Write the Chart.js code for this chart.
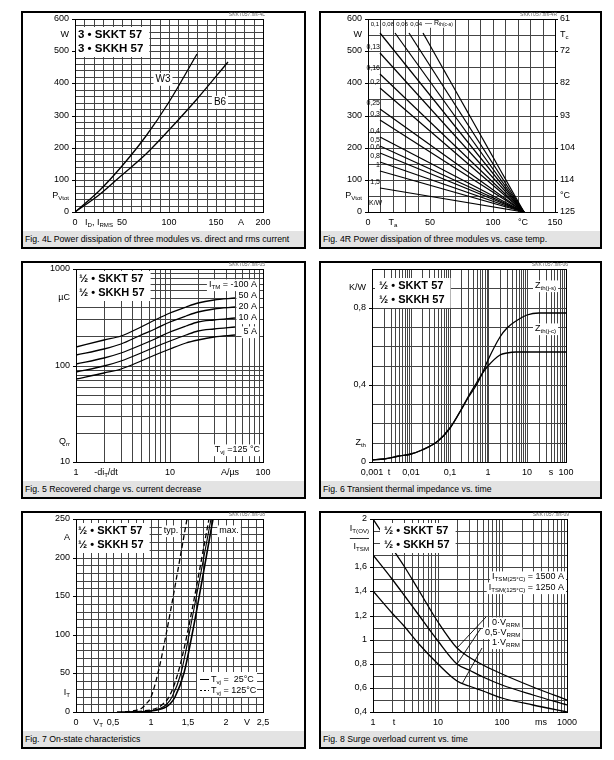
<!DOCTYPE html>
<html>
<head>
<meta charset="utf-8">
<title>SKKT 57 / SKKH 57</title>
<script src="https://cdn.jsdelivr.net/npm/chart.js@4.4.1/dist/chart.umd.min.js"></script>
<style>
  body { margin: 0; width: 614px; height: 760px; position: relative; background: #fff; overflow: hidden;
         font-family: "Liberation Sans", Arial, sans-serif; }
  .box { position: absolute; border: 2px solid #000; box-sizing: border-box; }
  .cap { position: absolute; left: 0; right: 0; bottom: 0; height: 16px; line-height: 16px; background: #e3e3e3;
         font-size: 8.7px; padding-left: 2px; white-space: nowrap; overflow: hidden; }
  canvas { position: absolute; }
</style>
</head>
<body>
<script>
// Fig. 4L - power dissipation vs. current
const fig4lW3Current = [0, 25, 50, 75, 100, 130];
const fig4lW3Power = [0, 64, 142, 235, 343, 491];
const fig4lB6Current = [0, 25, 50, 75, 100, 130, 163];
const fig4lB6Power = [0, 54, 114, 181, 254, 351, 467];
const fig4lXLabels = [0, 50, 100, 150, 200];
const fig4lYLabels = [0, 100, 200, 300, 400, 500, 600];

// Fig. 4R - power dissipation vs. case temp, one line per Rth(c-a)
const fig4rRth = ['0,04', '0,06', '0,08', '0,1', '0,13', '0,16', '0,2', '0,25', '0,3', '0,4', '0,5', '0,6', '0,8', '1', '1,5'];
const fig4rStartTa = [44, 33, 22, 10, 10, 10, 10, 10, 10, 10, 10, 10, 10, 10, 10];
const fig4rStartP = [556, 556, 556, 556, 493, 430, 384, 320, 285, 233, 206, 184, 155, 126, 75];
const fig4rEndTa = 125;
const fig4rXLabels = [0, 50, 100, 150];
const fig4rYLabels = [0, 100, 200, 300, 400, 500, 600];
const fig4rTcLabels = ['125', '114', '104', '93', '82', '72', '61'];

// Fig. 5 - recovered charge
const fig5DiDt = [1, 2, 3, 5, 7, 10, 15, 20, 30, 50];
const fig5Q100 = [156, 182, 204, 251, 295, 347, 407, 447, 479, 501];
const fig5Q50 = [129, 150, 168, 206, 240, 281, 329, 360, 385, 402];
const fig5Q20 = [104, 120, 134, 163, 190, 221, 257, 281, 299, 312];
const fig5Q10 = [86, 100, 111, 134, 155, 180, 208, 226, 241, 251];
const fig5Q5 = [72, 83, 92, 111, 128, 148, 171, 185, 197, 205];
const fig5XLabels = [1, 10, 100];
const fig5YLabels = [10, 100, 1000];

// Fig. 6 - transient thermal impedance
const fig6Time = [0.001, 0.002, 0.005, 0.01, 0.02, 0.05, 0.1, 0.2, 0.3, 0.5, 0.7, 1, 2, 3, 5, 10, 20, 50, 100];
const fig6ZthJs = [0.01, 0.017, 0.03, 0.042, 0.06, 0.11, 0.175, 0.27, 0.333, 0.405, 0.456, 0.527, 0.65, 0.694, 0.733, 0.76, 0.77, 0.772, 0.772];
const fig6ZthJc = [0.01, 0.017, 0.03, 0.042, 0.06, 0.11, 0.175, 0.272, 0.338, 0.415, 0.458, 0.50, 0.552, 0.565, 0.57, 0.571, 0.571, 0.571, 0.571];
const fig6XLabels = [0.001, 0.01, 0.1, 1, 10, 100];
const fig6YLabels = [0, 0.4, 0.8];

// Fig. 7 - on-state characteristics
const fig7Current = [0, 1, 5, 10, 20, 50, 100, 250];
const fig7VTyp125 = [0.55, 0.75, 0.88, 0.94, 1.0, 1.1, 1.2, 1.49];
const fig7VMax125 = [0.6, 0.9, 1.08, 1.16, 1.24, 1.36, 1.48, 1.775];
const fig7VTyp25 = [0.7, 0.97, 1.13, 1.21, 1.29, 1.40, 1.51, 1.80];
const fig7VMax25 = [0.75, 1.0, 1.17, 1.25, 1.33, 1.44, 1.55, 1.835];
const fig7XLabels = [0, 0.5, 1, 1.5, 2, 2.5];
const fig7YLabels = [0, 50, 100, 150, 200, 250];

// Fig. 8 - surge overload current
const fig8Time = [1, 2, 3, 5, 10, 20, 30, 50, 100, 300, 1000];
const fig8V0 = [2.0, 1.76, 1.61, 1.42, 1.15, 0.93, 0.86, 0.79, 0.715, 0.61, 0.50];
const fig8V05 = [1.70, 1.50, 1.37, 1.21, 0.99, 0.80, 0.745, 0.69, 0.625, 0.54, 0.46];
const fig8V1 = [1.40, 1.22, 1.11, 0.97, 0.80, 0.66, 0.615, 0.575, 0.52, 0.455, 0.40];
const fig8XLabels = [1, 10, 100, 1000];
const fig8YLabels = [0.4, 0.6, 0.8, 1, 1.2, 1.4, 1.6, 2];

const FONT = '"Liberation Sans", Arial, Helvetica, sans-serif';
const GRID = '#444';
const Y_W = 40, Y2_W = 30, AX_H = 16, CANVAS_H = 220;
Chart.defaults.font.family = FONT;
Chart.defaults.font.size = 9;
Chart.defaults.color = '#000';

const steps = (a, b, d) => {
    const out = [];
    for (let i = 0; a + i * d <= b + 1e-9; i++) out.push(+(a + i * d).toFixed(6));
    return out;
};
const logSteps = (a, b) => {
    const out = [];
    for (let d = a; d < b * 1.001; d *= 10) {
        for (let k = 1; k <= 9; k++) {
            const v = +(k * d).toPrecision(6);
            if (v <= b * 1.0001) out.push(v);
        }
    }
    return out;
};
const same = (a, b) => Math.abs(a - b) <= 1e-9 * Math.max(1, Math.abs(a));
const fmt = v => String(v).replace('.', ',');
const pts = (xs, ys) => xs.map((x, i) => ({ x: x, y: ys[i] }));

function line(xs, ys, opt) {
    return Object.assign({
        data: pts(xs, ys), borderColor: '#000', borderWidth: 1.3, pointRadius: 0,
        fill: false, cubicInterpolationMode: 'monotone'
    }, opt || {});
}

function makeAxis(o) {
    const isLabel = v => o.labels.some(l => same(l, v));
    return {
        type: o.log ? 'logarithmic' : 'linear',
        position: o.position,
        min: o.min, max: o.max,
        alignToPixels: true,
        afterBuildTicks: s => { s.ticks = o.grid.map(v => ({ value: v })); },
        afterFit: s => {
            if (o.position === 'bottom') s.height = AX_H; else s.width = o.width || Y_W;
            s.paddingLeft = s.paddingRight = s.paddingTop = s.paddingBottom = 0;
        },
        border: { display: false },
        grid: {
            drawOnChartArea: o.onChart !== false,
            color: GRID, lineWidth: 1,
            drawTicks: !!o.tick, tickLength: o.tick || 0,
            tickColor: c => (c.tick && isLabel(c.tick.value)) ? '#000' : 'rgba(0,0,0,0)'
        },
        ticks: {
            autoSkip: false, maxRotation: 0, minRotation: 0, padding: o.pad,
            callback: v => {
                const k = o.labels.findIndex(l => same(l, v));
                return k < 0 ? '' : (o.text ? o.text[k] : fmt(o.labels[k]));
            }
        }
    };
}

// text with _{subscript} parts
function parts(s) {
    return s.split(/(_\{[^}]*\})/).filter(p => p).map(p =>
        p.startsWith('_{') ? { t: p.slice(2, -1), sub: true } : { t: p, sub: false });
}
function richWidth(ctx, s, size, bold) {
    let w = 0;
    parts(s).forEach(p => {
        ctx.font = (bold ? 'bold ' : '') + (p.sub ? size * 0.68 : size) + 'px ' + FONT;
        w += ctx.measureText(p.t).width;
    });
    return w;
}
function richText(ctx, s, x, y, o) {
    const size = o.size || 9, bold = !!o.bold;
    const w = richWidth(ctx, s, size, bold);
    let x0 = o.align === 'right' ? x - w : o.align === 'center' ? x - w / 2 : x;
    x0 += o.dx || 0;
    y += o.dy || 0;
    if (o.bg) {
        ctx.fillStyle = '#fff';
        ctx.fillRect(x0 - 2, y - size * 0.62, w + 4, size * 1.3);
    }
    ctx.fillStyle = o.color || '#000';
    ctx.textBaseline = 'middle';
    ctx.textAlign = 'left';
    parts(s).forEach(p => {
        ctx.font = (bold ? 'bold ' : '') + (p.sub ? size * 0.68 : size) + 'px ' + FONT;
        ctx.fillText(p.t, x0, p.sub ? y + size * 0.3 : y);
        x0 += ctx.measureText(p.t).width;
    });
    return w;
}

const notes = {};
const notesPlugin = {
    id: 'notes',
    afterDraw(chart) {
        const n = notes[chart.canvas.id];
        if (!n) return;
        const ctx = chart.ctx, a = chart.chartArea;
        const px = v => chart.scales.x.getPixelForValue(v);
        const py = v => chart.scales.y.getPixelForValue(v);
        ctx.save();
        ctx.strokeStyle = '#000';
        (n.leaders || []).forEach(l => {
            ctx.beginPath();
            ctx.lineWidth = 0.9;
            ctx.moveTo(px(l[0]), py(l[1]));
            ctx.lineTo(px(l[2]), py(l[3]));
            ctx.stroke();
        });
        (n.boxes || []).forEach(b => {
            const x = px(b.x), y = py(b.y), lh = 14, size = b.size || 11.5;
            const w = Math.max(...b.lines.map(s => richWidth(ctx, s, size, true)));
            ctx.fillStyle = '#fff';
            const left = Math.max(x - 4, a.left + 1);
            ctx.fillRect(left, y - 8, x + w + 6 - left, lh * (b.lines.length - 1) + 16);
            b.lines.forEach((s, i) => richText(ctx, s, x, y + i * lh, { size: size, bold: true }));
        });
        (n.texts || []).forEach(t => richText(ctx, t.s, px(t.x), py(t.y), t));
        if (n.legend) {
            const L = n.legend, x = px(L.x), y = py(L.y);
            ctx.fillStyle = '#fff';
            ctx.fillRect(x, y, 60, 25);
            L.rows.forEach((r, i) => {
                const yy = Math.round(y + 7 + i * 11) + 0.5;
                ctx.beginPath();
                ctx.setLineDash(r.dash);
                ctx.lineWidth = 1;
                ctx.moveTo(x + 3, yy);
                ctx.lineTo(x + 12, yy);
                ctx.stroke();
                ctx.setLineDash([]);
                richText(ctx, r.s, x + 14, yy, { size: 9 });
            });
        }
        // plot frame
        ctx.lineWidth = 1;
        ctx.strokeStyle = '#000';
        ctx.strokeRect(Math.round(a.left) + 0.5, Math.round(a.top) + 0.5,
            Math.round(a.right) - Math.round(a.left), Math.round(a.bottom) - Math.round(a.top));
        // unit labels on the axes
        (n.xUnits || []).forEach(u => richText(ctx, u[1], px(u[0]), a.bottom + 10.4, { align: 'center' }));
        (n.yUnits || []).forEach(u => richText(ctx, u[1], a.left - 6, py(u[0]), { align: 'right' }));
        (n.y2Units || []).forEach(u => richText(ctx, u[1], a.right + 5, chart.scales.y2.getPixelForValue(u[0]), {}));
        if (n.frac) {
            const f = n.frac, yy = py(f.y), x = a.left - 4;
            const w = Math.max(richWidth(ctx, f.top, 9), richWidth(ctx, f.bottom, 9));
            richText(ctx, f.top, x, yy - 9, { align: 'right' });
            richText(ctx, f.bottom, x, yy + 9, { align: 'right' });
            ctx.beginPath();
            ctx.lineWidth = 0.8;
            ctx.moveTo(x - w, Math.round(yy) + 0.5);
            ctx.lineTo(x, Math.round(yy) + 0.5);
            ctx.stroke();
        }
        if (n.code) richText(ctx, n.code, a.right + 2, a.top - 4.5, { size: 5, align: 'right', color: '#666' });
        ctx.restore();
    }
};

function panel(id, col, rowTop, plotX, caption, cfg) {
    const div = document.createElement('div');
    div.className = 'box';
    div.style.left = col.x + 'px';
    div.style.top = rowTop + 'px';
    div.style.width = col.w + 'px';
    div.style.height = '238px';
    const cap = document.createElement('div');
    cap.className = 'cap';
    cap.textContent = caption;
    div.appendChild(cap);
    document.body.appendChild(div);

    const cv = document.createElement('canvas');
    cv.id = id;
    cv.width = col.w;
    cv.height = CANVAS_H;
    cv.style.left = col.x + 'px';
    cv.style.top = rowTop + 'px';
    document.body.appendChild(cv);

    const plotTop = 8, plotBottom = 201;
    const padding = {
        left: plotX[0] - col.x - Y_W,
        top: plotTop,
        right: col.x + col.w - plotX[1] - (cfg.scales.y2 ? Y2_W : 0),
        bottom: CANVAS_H - plotBottom - AX_H
    };
    notes[id] = cfg.notes;
    new Chart(cv, {
        type: 'line',
        data: { datasets: cfg.datasets },
        options: {
            responsive: false, animation: false, devicePixelRatio: 1,
            layout: { padding: padding },
            plugins: { legend: { display: false }, tooltip: { enabled: false } },
            scales: cfg.scales
        },
        plugins: [notesPlugin]
    });
}

const LEFT = { x: 21, w: 285 }, RIGHT = { x: 319, w: 283 };
const ROWS = [11, 261, 511];

// Fig. 4L
panel('fig4l', LEFT, ROWS[0], [75, 263],
    'Fig. 4L Power dissipation of three modules vs. direct and rms current', {
    datasets: [line(fig4lW3Current, fig4lW3Power), line(fig4lB6Current, fig4lB6Power)],
    scales: {
        x: makeAxis({ position: 'bottom', min: 0, max: 200, grid: steps(0, 200, 10), labels: fig4lXLabels, pad: 5 }),
        y: makeAxis({ position: 'left', min: 0, max: 600, grid: steps(0, 600, 20), labels: fig4lYLabels, tick: 3, pad: 3 })
    },
    notes: {
        code: 'SKKT057.xls-4L',
        xUnits: [[25, 'I_{D}, I_{RMS}'], [177, 'A']],
        yUnits: [[550, 'W'], [50, 'P_{Vtot}']],
        boxes: [{ x: 3, y: 550, lines: ['3 • SKKT 57', '3 • SKKH 57'] }],
        texts: [
            { x: 94, y: 413, s: 'W3', align: 'center', bg: true, size: 10 },
            { x: 154.5, y: 342, s: 'B6', align: 'center', bg: true, size: 10 }
        ]
    }
});

// Fig. 4R
panel('fig4r', RIGHT, ROWS[0], [368, 555],
    'Fig. 4R Power dissipation of three modules vs. case temp.', {
    datasets: fig4rRth.map((r, i) => ({
        data: [{ x: fig4rStartTa[i], y: fig4rStartP[i] }, { x: fig4rEndTa, y: 0 }],
        borderColor: '#000', borderWidth: 1.2, pointRadius: 0, fill: false
    })),
    scales: {
        x: makeAxis({ position: 'bottom', min: 0, max: 150, grid: steps(0, 150, 10), labels: fig4rXLabels, pad: 5 }),
        y: makeAxis({ position: 'left', min: 0, max: 600, grid: steps(0, 600, 50), labels: fig4rYLabels, tick: 3, pad: 3 }),
        y2: makeAxis({ position: 'right', width: Y2_W, min: 0, max: 600, grid: fig4rYLabels, labels: fig4rYLabels,
            text: fig4rTcLabels, onChart: false, tick: 3, pad: 2 })
    },
    notes: {
        code: 'SKKT057.xls-4R',
        xUnits: [[20, 'T_{a}'], [124, '°C']],
        yUnits: [[550, 'W'], [50, 'P_{Vtot}']],
        y2Units: [[550, 'T_{c}'], [50, '°C']],
        texts: fig4rRth.map((r, i) => {
            const top = fig4rStartP[i] > 550;
            return { x: fig4rStartTa[i], y: fig4rStartP[i], s: r, align: 'right',
                size: top ? 6 : 7, dx: top ? -1 : 0, dy: top ? -9 : -6 };
        }).concat([
            { x: 45.5, y: 587, s: '— R_{th(c-a)}', size: 7, bg: true },
            { x: 1, y: 28, s: 'K/W', size: 7 }
        ])
    }
});

// Fig. 5
panel('fig5', LEFT, ROWS[1], [76, 263],
    'Fig. 5 Recovered charge vs. current decrease', {
    datasets: [fig5Q100, fig5Q50, fig5Q20, fig5Q10, fig5Q5].map(q => line(fig5DiDt, q)),
    scales: {
        x: makeAxis({ position: 'bottom', log: true, min: 1, max: 100, grid: logSteps(1, 100), labels: fig5XLabels, pad: 5 }),
        y: makeAxis({ position: 'left', log: true, min: 10, max: 1000, grid: logSteps(10, 1000), labels: fig5YLabels, tick: 3, pad: 3 })
    },
    notes: {
        code: 'SKKT057.xls-05',
        xUnits: [[2.1, '-di_{T}/dt'], [44, 'A/µs']],
        yUnits: [[500, 'µC'], [16, 'Q_{rr}']],
        boxes: [{ x: 1.08, y: 785, lines: ['½ • SKKT 57', '½ • SKKH 57'], size: 11 }],
        texts: [
            { x: 86, y: 684, s: 'I_{TM} = -100 A', align: 'right', bg: true },
            { x: 86, y: 523, s: '50 A', align: 'right', bg: true },
            { x: 86, y: 404, s: '20 A', align: 'right', bg: true },
            { x: 86, y: 314, s: '10 A', align: 'right', bg: true },
            { x: 86, y: 221, s: '5 A', align: 'right', bg: true },
            { x: 93, y: 13.4, s: 'T_{vj} =125 °C', align: 'right', bg: true }
        ]
    }
});

// Fig. 6
panel('fig6', RIGHT, ROWS[1], [372, 566],
    'Fig. 6 Transient thermal impedance vs. time', {
    datasets: [line(fig6Time, fig6ZthJs), line(fig6Time, fig6ZthJc)],
    scales: {
        x: makeAxis({ position: 'bottom', log: true, min: 0.001, max: 100, grid: logSteps(0.001, 100), labels: fig6XLabels, pad: 5 }),
        y: makeAxis({ position: 'left', min: 0, max: 1, grid: steps(0, 1, 0.1), labels: fig6YLabels, tick: 3, pad: 3 })
    },
    notes: {
        code: 'SKKT057.xls-06',
        xUnits: [[0.0027, 't'], [40, 's']],
        yUnits: [[0.9, 'K/W'], [0.1, 'Z_{th}']],
        boxes: [{ x: 0.0015, y: 0.911, lines: ['½ • SKKT 57', '½ • SKKH 57'], size: 11 }],
        texts: [
            { x: 15.8, y: 0.911, s: 'Z_{th(j-s)}', bg: true },
            { x: 15.8, y: 0.6875, s: 'Z_{th(j-c)}', bg: true }
        ]
    }
});

// Fig. 7
panel('fig7', LEFT, ROWS[2], [76, 263],
    'Fig. 7 On-state characteristics', {
    datasets: [
        line(fig7VTyp125, fig7Current, { borderDash: [5, 3] }),
        line(fig7VMax125, fig7Current, { borderDash: [5, 3] }),
        line(fig7VTyp25, fig7Current, { borderWidth: 1.1 }),
        line(fig7VMax25, fig7Current, { borderWidth: 1.6 })
    ],
    scales: {
        x: makeAxis({ position: 'bottom', min: 0, max: 2.5, grid: steps(0, 2.5, 0.1), labels: fig7XLabels, pad: 5 }),
        y: makeAxis({ position: 'left', min: 0, max: 250, grid: steps(0, 250, 10), labels: fig7YLabels, tick: 3, pad: 3 })
    },
    notes: {
        code: 'SKKT057.xls-08',
        xUnits: [[0.3, 'V_{T}'], [2.29, 'V']],
        yUnits: [[225, 'A'], [25, 'I_{T}']],
        boxes: [{ x: 0.03, y: 235, lines: ['½ • SKKT 57', '½ • SKKH 57'], size: 11 }],
        texts: [
            { x: 1.27, y: 235, s: 'typ.', align: 'center', bg: true },
            { x: 2.04, y: 235, s: 'max.', align: 'center', bg: true }
        ],
        legend: { x: 1.62, y: 52, rows: [
            { dash: [], s: 'T_{vj} =  25°C' },
            { dash: [2, 2], s: 'T_{vj} = 125°C' }
        ] }
    }
});

// Fig. 8
panel('fig8', RIGHT, ROWS[2], [373, 567],
    'Fig. 8 Surge overload current vs. time', {
    datasets: [line(fig8Time, fig8V0), line(fig8Time, fig8V05), line(fig8Time, fig8V1)],
    scales: {
        x: makeAxis({ position: 'bottom', log: true, min: 1, max: 1000, grid: logSteps(1, 1000), labels: fig8XLabels, pad: 5 }),
        y: makeAxis({ position: 'left', min: 0.4, max: 2, grid: steps(0.4, 2, 0.1), labels: fig8YLabels, tick: 3, pad: 3 })
    },
    notes: {
        code: 'SKKT057.xls-09',
        xUnits: [[2.1, 't'], [390, 'ms']],
        frac: { y: 1.843, top: 'I_{T(OV)}', bottom: 'I_{TSM}' },
        boxes: [{ x: 1.48, y: 1.904, lines: ['½ • SKKT 57', '½ • SKKH 57'], size: 11 }],
        leaders: [[55, 1.19, 20, 0.93], [46, 1.093, 20, 0.80], [49, 0.928, 24, 0.635]],
        texts: [
            { x: 896, y: 1.519, s: 'I_{TSM(25°C)} = 1500 A', align: 'right', bg: true },
            { x: 896, y: 1.428, s: 'I_{TSM(125°C)} = 1250 A', align: 'right', bg: true },
            { x: 69, y: 1.134, s: '0·V_{RRM}', bg: true },
            { x: 54.5, y: 1.052, s: '0,5·V_{RRM}', bg: true },
            { x: 69, y: 0.969, s: '1·V_{RRM}', bg: true }
        ]
    }
});
</script>
</body>
</html>
